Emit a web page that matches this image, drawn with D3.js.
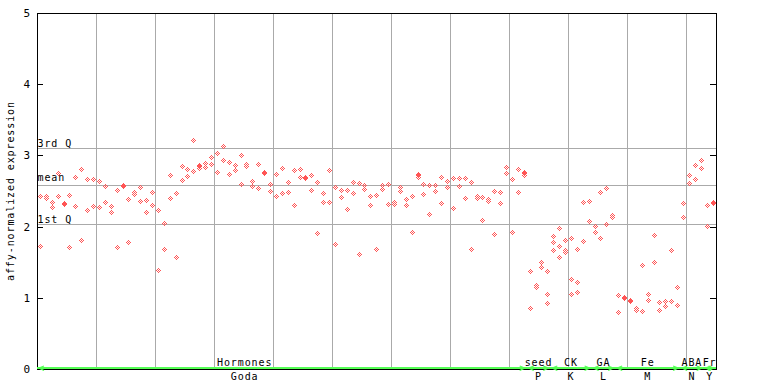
<!DOCTYPE html>
<html><head><meta charset="utf-8">
<script src="https://cdn.jsdelivr.net/npm/d3@7/dist/d3.min.js"></script>
<style>
html,body{margin:0;padding:0;background:#fff;}
text{font-family:"DejaVu Sans Mono",monospace;font-size:10px;letter-spacing:0.9px;fill:#000;}
</style></head>
<body><svg id="chart" width="768" height="384"></svg>
<script>
// replicate values for each sample (x index = position in array)
const sampleValues = [
 [2.43,1.73],[2.43,2.40],[2.34,2.27],[2.75,2.43],[2.33,2.32],[2.44,1.71],[2.70,2.29],[2.81,1.81],[2.67,2.23],[2.67,2.29],
 [2.64,2.27],[2.57,2.34],[2.29,2.20],[2.51,1.72],[2.58,2.57],[2.39,1.78],[2.48,2.46],[2.55,2.36],[2.37,2.20],[2.48,2.30],
 [2.23,1.39],[2.05,1.68],[2.72,2.40],[2.47,1.57],[2.85,2.65],[2.81,2.71],[3.22,2.78],[2.86,2.85,2.82],[2.89,2.84],[2.98,2.88],
 [3.03,2.77],[3.13,2.93],[2.91,2.74],[2.86,2.79],[3.00,2.60],[2.88,2.85],[2.64,2.57],[2.88,2.54],[2.76,2.75],[2.60,2.50],
 [2.74,2.43],[2.82,2.47],[2.62,2.48],[2.79,2.30],[2.81,2.70],[2.69,2.68],[2.72,2.51],[2.62,1.91],[2.47,2.34],[2.79,2.34],
 [2.55,1.75],[2.51,2.41],[2.51,2.25],[2.62,2.47],[2.61,1.61],[2.58,2.53],[2.43,2.30],[2.44,1.68],[2.58,2.53],[2.60,2.32],
 [2.35,2.34,2.32],[2.55,2.50],[2.39,2.30],[2.43,1.92],[2.74,2.72,2.70],[2.60,2.46],[2.58,2.17],[2.58,2.50],[2.70,2.33],[2.64,2.55],
 [2.68,2.26],[2.68,2.57],[2.68,2.40],[2.62,1.68],[2.43,2.40],[2.41,2.09],[2.39,2.36],[2.50,1.89],[2.48,2.33],[2.84,2.75],
 [2.67,1.92],[2.81,2.48],[2.76,2.75,2.72],[1.37,0.85],[1.18,1.15],[1.50,1.43],[1.37,1.05,0.92],[1.87,1.78,1.67],[1.98,1.73,1.58],[1.81,1.67,1.64],
 [1.84,1.26,1.05],[1.68,1.22,1.08],[2.34,1.80],[2.36,2.08],[2.01,1.92],[2.48,1.84],[2.54,2.03],[2.16,2.13],[1.04,0.80],[1.01,1.00],
 [0.97,0.96],[0.85,0.83],[1.46,0.81],[1.05,0.97],[1.88,1.50],[0.94,0.83],[0.95,0.88],[1.67,0.95],[1.15,0.90],[2.33,2.13],
 [2.72,2.61],[2.86,2.67],[2.93,2.83],[2.30,2.01],[2.34,2.33]
];
// reference lines
const refLabels = ["3rd Q","mean","1st Q"];
const refValues = [3.10, 2.58, 2.04];
// category groups along the x axis (sample index ranges)
const groupTop    = ["Hormones","seed","CK","GA","Fe","ABA","Fr"];
const groupBottom = ["Goda","P","K","L","M","N","Y"];
const groupStart  = [0, 83, 87, 94, 98, 109, 113];
const groupEnd    = [83, 87, 94, 98, 109, 113, 115];
const groupLabelAt = [35.2, 85, 90.5, 96, 103.5, 111, 114];
const yTicks = [0,1,2,3,4,5];
const yTitle = "affy-normalized expression";

const svg = d3.select("#chart");
const x = d3.scaleLinear().domain([0, sampleValues.length]).range([37, 715.5]);
const y = d3.scaleLinear().domain([0, 5]).range([369, 13]);
const L = 37, R = 715.5, T = 13, B = 369;
const px = v => Math.round(v) + 0.5;

// vertical grid lines every 10 samples
const vgrid = d3.range(10, sampleValues.length, 10);
svg.append("g").selectAll("line").data(vgrid).join("line")
  .attr("x1", d => px(x(d))).attr("x2", d => px(x(d)))
  .attr("y1", T).attr("y2", B)
  .attr("stroke", "#aaaaaa").attr("stroke-width", 1).attr("shape-rendering","crispEdges");

// reference lines
svg.append("g").selectAll("line").data(refValues).join("line")
  .attr("x1", L).attr("x2", R)
  .attr("y1", d => px(y(d))).attr("y2", d => px(y(d)))
  .attr("stroke", "#aaaaaa").attr("stroke-width", 1).attr("shape-rendering","crispEdges");
svg.append("g").selectAll("text").data(refValues).join("text")
  .attr("x", L + 0.5).attr("y", (d,i) => Math.round(y(d)) - (i===1 ? 4 : 1))
  .text((d,i) => refLabels[i]);

// frame
svg.append("rect").attr("x", px(L)).attr("y", px(T)).attr("width", Math.round(R)-Math.round(L)).attr("height", Math.round(B)-Math.round(T))
  .attr("fill","none").attr("stroke","#000").attr("stroke-width",1).attr("shape-rendering","crispEdges");

// y axis ticks (inside, both sides)
const tk = svg.append("g");
tk.selectAll("line.l").data(yTicks).join("line").attr("class","l")
  .attr("x1", L).attr("x2", L + 6).attr("y1", d => px(y(d))).attr("y2", d => px(y(d)))
  .attr("stroke","#000").attr("shape-rendering","crispEdges");
tk.selectAll("line.r").data(yTicks).join("line").attr("class","r")
  .attr("x1", R - 6).attr("x2", R).attr("y1", d => px(y(d))).attr("y2", d => px(y(d)))
  .attr("stroke","#000").attr("shape-rendering","crispEdges");
tk.selectAll("text").data(yTicks).join("text")
  .attr("x", 30).attr("y", d => y(d) + 4).attr("text-anchor","end")
  .style("letter-spacing","0px").style("font-size","11px")
  .text(d => d);

// y title
svg.append("text").attr("transform", "translate(14,191) rotate(-90)")
  .attr("text-anchor","middle").text(yTitle);

// points: checkered diamonds
const diamondPix = [];
for (let dy = -3; dy <= 3; dy++) for (let dx = -3; dx <= 3; dx++)
  if (Math.abs(dx) + Math.abs(dy) <= 2 && ((dx + dy) % 2 === 0)) diamondPix.push([dx, dy]);
const pts = [];
sampleValues.forEach((vals, i) => vals.forEach(v => pts.push({i, v})));
const pg = svg.append("g");
pg.selectAll("g").data(pts).join("g")
  .attr("transform", d => `translate(${Math.round(x(d.i + 0.5))},${Math.round(y(d.v))})`)
  .selectAll("rect").data(diamondPix).join("rect")
  .attr("x", d => d[0]).attr("y", d => d[1]).attr("width", 1).attr("height", 1)
  .attr("fill", "#ff5555").attr("shape-rendering","crispEdges");

// category bar on x axis
const green = "#55ff55";
const gg = svg.append("g");
groupTop.forEach((name, k) => {
  const x0 = x(groupStart[k]), x1 = x(groupEnd[k]);
  gg.append("line").attr("x1", x0).attr("x2", x1).attr("y1", 368).attr("y2", 368)
    .attr("stroke", green).attr("stroke-width", 2).attr("shape-rendering","crispEdges");
  // arrow heads
  gg.append("path").attr("d", `M${x0+7},${366} L${x0+2},${368} L${x0+7},${370.5}`)
    .attr("fill","none").attr("stroke",green).attr("stroke-width",1.3);
  gg.append("path").attr("d", `M${x1-7},${366} L${x1-2},${368} L${x1-7},${370.5}`)
    .attr("fill","none").attr("stroke",green).attr("stroke-width",1.3);
  const lx = x(groupLabelAt[k]);
  gg.append("text").attr("x", lx).attr("y", 366).attr("text-anchor","middle").text(name);
  gg.append("text").attr("x", lx).attr("y", 380).attr("text-anchor","middle").text(groupBottom[k]);
});
</script></body></html>
